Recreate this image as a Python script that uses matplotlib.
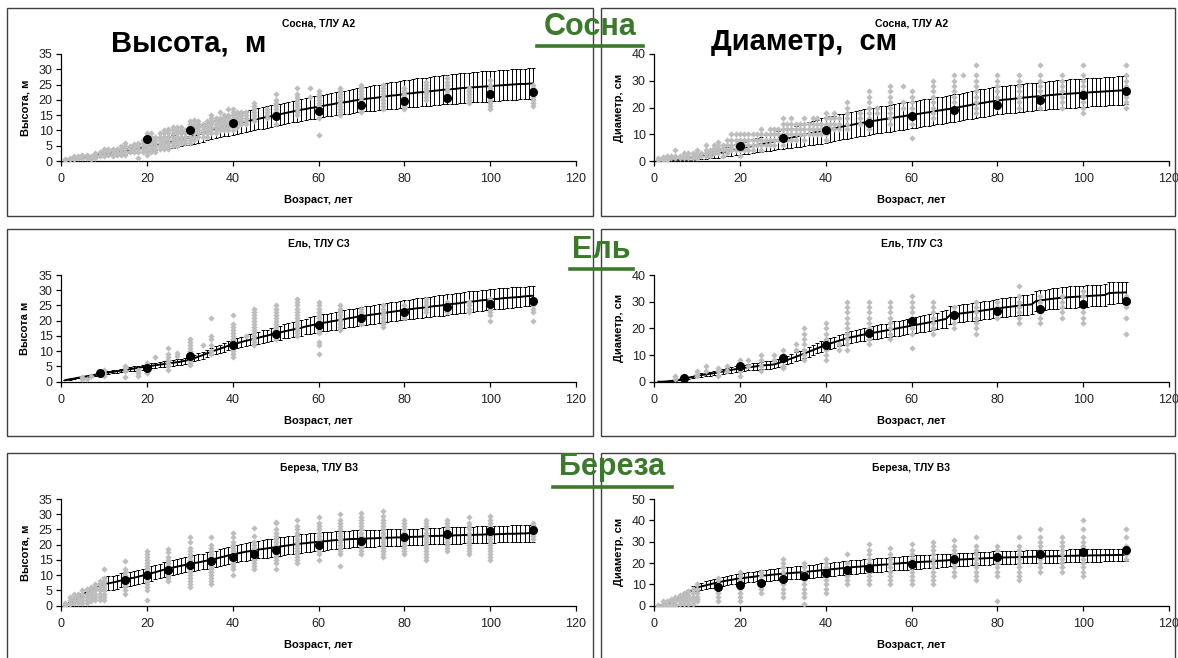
import numpy as np
import matplotlib.pyplot as plt
from matplotlib.patches import Rectangle
from matplotlib.lines import Line2D

plt.rcParams['font.family'] = ['Liberation Sans', 'DejaVu Sans']

# возраст, лет (модельная кривая считается для каждого года)
ages = list(range(1, 111))

# ---------------- Сосна, ТЛУ А2: высота ----------------
pine_h_curve = [
    0.5, 0.7, 0.9, 1.0, 1.2, 1.4, 1.6, 1.8, 2.0, 2.2,
    2.4, 2.6, 2.8, 3.1, 3.3, 3.6, 3.9, 4.1, 4.4, 4.7,
    5.0, 5.3, 5.6, 5.9, 6.2, 6.5, 6.8, 7.1, 7.5, 7.8,
    8.2, 8.7, 9.1, 9.6, 10.0, 10.4, 10.8, 11.2, 11.5, 11.9,
    12.2, 12.5, 12.9, 13.2, 13.5, 13.8, 14.1, 14.4, 14.7, 15.0,
    15.3, 15.6, 15.9, 16.2, 16.5, 16.8, 17.0, 17.3, 17.5, 17.8,
    18.0, 18.3, 18.5, 18.8, 19.0, 19.2, 19.4, 19.7, 19.9, 20.1,
    20.3, 20.5, 20.6, 20.8, 21.0, 21.2, 21.4, 21.5, 21.7, 21.9,
    22.1, 22.2, 22.4, 22.5, 22.7, 22.8, 23.0, 23.1, 23.3, 23.4,
    23.5, 23.6, 23.8, 23.9, 24.0, 24.1, 24.2, 24.3, 24.4, 24.5,
    24.6, 24.7, 24.8, 24.9, 25.0, 25.1, 25.2, 25.2, 25.3, 25.4]
pine_h_err = [
    0.1, 0.1, 0.2, 0.2, 0.3, 0.3, 0.4, 0.4, 0.5, 0.5,
    0.6, 0.7, 0.8, 0.9, 1.0, 1.1, 1.2, 1.3, 1.4, 1.5,
    1.6, 1.7, 1.8, 1.9, 2.0, 2.1, 2.2, 2.3, 2.4, 2.5,
    2.6, 2.7, 2.8, 2.8, 2.9, 3.0, 3.1, 3.1, 3.2, 3.3,
    3.3, 3.3, 3.4, 3.4, 3.4, 3.4, 3.5, 3.5, 3.5, 3.5,
    3.5, 3.5, 3.5, 3.5, 3.6, 3.6, 3.6, 3.6, 3.6, 3.6,
    3.6, 3.7, 3.7, 3.8, 3.8, 3.8, 3.9, 3.9, 4.0, 4.0,
    4.0, 4.1, 4.1, 4.2, 4.2, 4.3, 4.3, 4.4, 4.4, 4.5,
    4.5, 4.5, 4.6, 4.6, 4.6, 4.7, 4.7, 4.7, 4.8, 4.8,
    4.8, 4.8, 4.9, 4.9, 4.9, 4.9, 5.0, 5.0, 5.0, 5.0,
    5.0, 5.0, 5.0, 5.0, 5.0, 5.0, 5.0, 5.0, 5.0, 5.0]
pine_h_mean_age = [20, 30, 40, 50, 60, 70, 80, 90, 100, 110]
pine_h_mean = [7.1, 10.1, 12.5, 14.7, 16.4, 18.3, 19.5, 20.7, 21.8, 22.7]
pine_h_obs_age = [1, 2, 3, 4, 5, 6, 7, 8, 9, 10, 11, 12, 13, 14, 15, 16, 17, 18,
                  19, 20, 21, 22, 23, 24, 25, 26, 27, 28, 29, 30, 31, 32, 33, 34,
                  35, 36, 37, 38, 39, 40, 41, 42, 43, 45, 48, 50, 55, 58, 60, 65,
                  70, 75, 80, 85, 90, 95, 100, 110]
pine_h_obs = [
    [0.3, 0.6], [0.5, 1], [0.5, 1, 1.5], [1, 1.5], [1, 1.5, 2], [1, 1.5, 2],
    [0.5, 1, 1.5], [1, 2, 2.5], [1.5, 2, 3], [1.5, 2, 3, 3.5, 4], [2, 3, 4],
    [1.5, 2.5, 3.5, 4], [2, 3, 4], [2, 3, 4, 5], [2, 3, 4, 5, 6], [3, 4, 5],
    [3, 4, 5, 5.5], [1, 3, 4, 5, 6], [3, 4, 5, 6, 7], [2, 3, 4, 5, 6, 7, 8, 9],
    [3, 4, 5, 6, 7, 8, 9], [3, 4, 5, 6, 7, 8], [4, 5, 6, 7, 8, 9],
    [4, 5, 6, 7, 8, 9, 10], [4, 5, 6, 7, 8, 9, 10, 10.5], [5, 6, 7, 8, 9, 10, 11],
    [5, 6, 7, 8, 9, 10, 11], [6, 7, 8, 9, 10, 11], [6, 7, 8, 9, 10],
    [6, 7, 8, 9, 10, 11, 12, 13], [7, 8, 9, 10, 11, 12, 13.5],
    [8, 9, 10, 11, 12, 13], [8, 9, 10, 11, 12], [8, 9, 10, 11, 12, 13],
    [9, 10, 11, 12, 13, 14, 15], [9, 10, 11, 12, 13, 14], [10, 11, 12, 13, 14, 16],
    [10, 11, 12, 13, 14, 15], [10, 11, 12, 13, 14, 15, 17],
    [10, 11, 12, 13, 14, 15, 16, 17], [11, 12, 13, 14, 15, 16], [12, 13, 14, 15, 16],
    [12, 13, 14, 15, 16], [13, 14, 15, 16, 17, 18, 19], [14, 15, 16, 17],
    [12, 14, 15, 16, 17, 18, 19, 20, 22], [15, 16, 17, 18, 19, 20, 21, 22, 24],
    [21, 24], [8.5, 14, 16, 17, 18, 19, 20, 21, 22, 23],
    [15, 16, 17, 18, 19, 20, 21, 22, 23, 24], [16, 17, 18, 19, 20, 21, 22, 23, 24, 25],
    [17, 18, 19, 20, 21, 22, 23, 24, 25], [17, 18, 19, 20, 21, 22, 23, 24],
    [20, 21, 22, 23, 24, 25, 26], [22, 23, 24, 25, 26, 27], [19, 20, 21, 22, 23, 24],
    [17, 18, 19, 20, 21, 22, 23, 24, 25, 26.5], [18, 19, 20, 21, 22, 23, 24, 25]]

# ---------------- Сосна, ТЛУ А2: диаметр ----------------
pine_d_curve = [
    0.0, 0.1, 0.2, 0.3, 0.4, 0.6, 0.8, 1.0, 1.2, 1.4,
    1.7, 2.0, 2.2, 2.5, 2.8, 3.2, 3.5, 3.9, 4.2, 4.6,
    4.9, 5.3, 5.6, 6.0, 6.3, 6.6, 7.0, 7.3, 7.7, 8.0,
    8.4, 8.7, 9.1, 9.4, 9.8, 10.2, 10.5, 10.9, 11.2, 11.6,
    11.9, 12.2, 12.6, 12.9, 13.2, 13.5, 13.8, 14.1, 14.4, 14.7,
    15.0, 15.2, 15.5, 15.7, 16.0, 16.2, 16.5, 16.7, 17.0, 17.2,
    17.5, 17.7, 18.0, 18.2, 18.5, 18.8, 19.0, 19.3, 19.5, 19.8,
    20.1, 20.4, 20.7, 21.0, 21.3, 21.6, 21.8, 22.1, 22.3, 22.6,
    22.8, 23.0, 23.1, 23.3, 23.5, 23.7, 23.8, 24.0, 24.1, 24.3,
    24.4, 24.6, 24.7, 24.9, 25.0, 25.1, 25.2, 25.3, 25.4, 25.5,
    25.6, 25.7, 25.8, 25.9, 26.0, 26.1, 26.2, 26.3, 26.4, 26.5]
pine_d_err = [
    0.1, 0.1, 0.2, 0.3, 0.4, 0.4, 0.5, 0.6, 0.7, 0.8,
    0.9, 1.1, 1.2, 1.4, 1.5, 1.6, 1.8, 1.9, 2.1, 2.2,
    2.3, 2.5, 2.6, 2.7, 2.8, 3.0, 3.1, 3.2, 3.4, 3.5,
    3.6, 3.8, 3.9, 4.0, 4.1, 4.3, 4.4, 4.5, 4.7, 4.8,
    4.8, 4.8, 4.8, 4.8, 4.8, 4.9, 4.9, 4.9, 4.9, 4.9,
    4.9, 4.9, 4.9, 4.9, 5.0, 5.0, 5.0, 5.0, 5.0, 5.0,
    5.0, 5.0, 5.0, 5.0, 5.1, 5.1, 5.1, 5.1, 5.1, 5.1,
    5.1, 5.1, 5.1, 5.2, 5.2, 5.2, 5.2, 5.2, 5.2, 5.2,
    5.2, 5.2, 5.2, 5.2, 5.2, 5.2, 5.2, 5.2, 5.2, 5.2,
    5.2, 5.2, 5.2, 5.3, 5.3, 5.3, 5.3, 5.3, 5.3, 5.3,
    5.3, 5.3, 5.3, 5.3, 5.3, 5.3, 5.3, 5.3, 5.3, 5.3]
pine_d_mean_age = [20, 30, 40, 50, 60, 70, 80, 90, 100, 110]
pine_d_mean = [5.6, 8.5, 11.6, 14.1, 16.8, 19.1, 20.8, 22.8, 24.7, 26.2]
pine_d_obs_age = [1, 2, 3, 4, 5, 6, 7, 8, 9, 10, 11, 12, 13, 14, 15, 16, 17, 18,
                  19, 20, 21, 22, 23, 24, 25, 26, 27, 28, 29, 30, 31, 32, 33, 34,
                  35, 36, 37, 38, 39, 40, 41, 42, 43, 45, 48, 50, 52, 55, 58, 60,
                  65, 70, 72, 75, 80, 85, 90, 95, 100, 110]
pine_d_obs = [
    [0.5, 1], [0.5, 1, 1.5], [0.5, 1, 2], [1, 2], [1, 2, 4], [1, 2], [1, 2, 3],
    [1, 2, 3], [1, 2, 3], [1, 2, 3, 4], [2, 3], [2, 3, 4, 6], [2, 3, 4],
    [3, 4, 5, 6], [3, 4, 5, 6, 7], [2, 4, 5, 6], [3, 4, 6, 8], [4, 5, 6, 8, 10],
    [4, 6, 8, 10], [2, 4, 6, 8, 10], [4, 6, 8, 10], [4, 6, 8, 10], [4, 6, 8, 10],
    [6, 8, 10], [4, 6, 8, 10, 12], [6, 8, 10], [6, 8, 10, 12], [6, 8, 10, 12],
    [8, 10, 12], [6, 8, 10, 12, 14, 16], [8, 10, 12, 14], [8, 10, 12, 14, 16],
    [8, 10, 12, 14], [10, 12, 14], [8, 10, 12, 14, 16], [10, 12, 14],
    [10, 12, 14, 16], [10, 12, 14, 16], [10, 12, 14], [8, 10, 12, 14, 16, 18],
    [12, 14, 16], [12, 14, 16, 18], [12, 14, 16], [12, 14, 16, 18, 20, 22],
    [14, 16, 18], [12, 14, 16, 18, 20, 22, 24, 26], [18, 20],
    [14, 16, 18, 20, 22, 24, 26, 28], [20, 22, 28], [8.5, 14, 16, 18, 20, 22, 24, 26],
    [16, 18, 20, 22, 24, 26, 28, 30], [20, 22, 24, 26, 28, 30, 32], [32],
    [18, 20, 22, 24, 26, 28, 30, 32, 36], [20, 22, 24, 26, 28, 30, 32],
    [20, 22, 24, 26, 28, 30, 32], [20, 22, 24, 26, 28, 30, 32, 36],
    [20, 22, 24, 26, 28, 30, 32], [18, 20, 22, 24, 26, 28, 30, 32, 36],
    [20, 22, 24, 26, 28, 30, 32, 36]]

# ---------------- Ель, ТЛУ С3: высота ----------------
spruce_h_curve = [
    0.5, 0.8, 1.0, 1.3, 1.5, 1.8, 2.0, 2.3, 2.5, 2.8,
    3.0, 3.2, 3.4, 3.7, 3.9, 4.1, 4.3, 4.6, 4.8, 5.0,
    5.2, 5.4, 5.6, 5.8, 6.0, 6.2, 6.4, 6.6, 6.9, 7.2,
    7.7, 8.2, 8.7, 9.3, 9.8, 10.3, 10.8, 11.3, 11.8, 12.2,
    12.6, 13.0, 13.4, 13.7, 14.1, 14.4, 14.8, 15.1, 15.5, 15.8,
    16.1, 16.5, 16.8, 17.1, 17.4, 17.7, 18.1, 18.4, 18.7, 19.0,
    19.3, 19.5, 19.8, 20.0, 20.3, 20.5, 20.8, 21.0, 21.3, 21.5,
    21.7, 21.9, 22.1, 22.3, 22.5, 22.7, 22.9, 23.1, 23.3, 23.5,
    23.7, 23.9, 24.1, 24.2, 24.4, 24.6, 24.8, 24.9, 25.1, 25.3,
    25.5, 25.6, 25.8, 26.0, 26.2, 26.3, 26.5, 26.7, 26.8, 27.0,
    27.1, 27.2, 27.4, 27.5, 27.6, 27.7, 27.8, 28.0, 28.1, 28.2]
spruce_h_err = [
    0.1, 0.1, 0.1, 0.2, 0.2, 0.2, 0.3, 0.3, 0.4, 0.4,
    0.4, 0.5, 0.5, 0.6, 0.6, 0.6, 0.7, 0.7, 0.8, 0.8,
    0.8, 0.8, 0.9, 0.9, 0.9, 0.9, 0.9, 1.0, 1.0, 1.0,
    1.0, 1.1, 1.1, 1.2, 1.2, 1.3, 1.3, 1.4, 1.4, 1.5,
    1.6, 1.6, 1.7, 1.8, 1.8, 1.9, 2.0, 2.0, 2.1, 2.2,
    2.3, 2.3, 2.4, 2.4, 2.5, 2.6, 2.6, 2.7, 2.7, 2.8,
    2.8, 2.8, 2.8, 2.9, 2.9, 2.9, 2.9, 3.0, 3.0, 3.0,
    3.0, 3.0, 3.1, 3.1, 3.1, 3.1, 3.1, 3.2, 3.2, 3.2,
    3.2, 3.2, 3.3, 3.3, 3.3, 3.3, 3.3, 3.4, 3.4, 3.4,
    3.4, 3.4, 3.4, 3.4, 3.4, 3.4, 3.4, 3.4, 3.4, 3.4,
    3.4, 3.4, 3.4, 3.3, 3.3, 3.3, 3.3, 3.2, 3.2, 3.2]
spruce_h_mean_age = [9, 20, 30, 40, 50, 60, 70, 80, 90, 100, 110]
spruce_h_mean = [2.8, 4.6, 8.4, 12.2, 15.5, 18.5, 21.0, 23.0, 24.4, 25.4, 26.5]
spruce_h_obs_age = [5, 6, 7, 10, 15, 18, 20, 22, 25, 27, 30, 33, 35, 40, 43, 45,
                    50, 55, 60, 65, 70, 75, 80, 85, 90, 95, 100, 110]
spruce_h_obs = [
    [1, 1.5], [1], [2], [2, 3, 4], [1.5, 3.5, 4.5, 5], [2, 3, 4], [3, 4, 5, 6], [8],
    [4, 5, 6, 7, 8, 9, 11], [8.5, 9.5], [5.5, 6, 7, 8, 9, 10, 11, 12, 13, 14], [12],
    [9, 10, 12, 14, 15, 21], [8, 9, 10, 11, 12, 13, 14, 15, 16, 17, 18, 19, 22],
    [15], [12, 13, 14, 15, 16, 17, 18, 19, 20, 21, 22, 23, 24],
    [14, 15, 16, 17, 18, 19, 20, 21, 22, 23, 24, 25],
    [15, 16, 17, 18, 19, 20, 21, 22, 23, 24, 25, 26, 27],
    [9, 12, 13, 16, 17, 18, 19, 20, 21, 22, 23, 24, 25, 26],
    [17, 18, 19, 20, 21, 22, 23, 24, 25], [19, 20, 21, 22, 23, 24],
    [18, 19, 20, 21, 22, 23, 24, 25], [21, 22, 23, 24, 25], [23, 24, 25, 26, 27],
    [23, 24, 25, 26], [23, 24, 25, 26], [20, 22, 23, 24, 25, 26, 27],
    [20, 23, 24, 25, 26]]

# ---------------- Ель, ТЛУ С3: диаметр ----------------
spruce_d_curve = [
    0.0, 0.0, 0.1, 0.3, 0.5, 0.8, 1.1, 1.5, 1.8, 2.2,
    2.5, 2.7, 3.0, 3.2, 3.5, 3.8, 4.1, 4.4, 4.7, 5.0,
    5.2, 5.4, 5.6, 5.8, 6.0, 6.2, 6.3, 6.5, 7.0, 7.5,
    8.1, 8.7, 9.3, 9.9, 10.5, 11.2, 11.8, 12.5, 13.1, 13.8,
    14.3, 14.8, 15.3, 15.8, 16.3, 16.7, 17.0, 17.4, 17.7, 18.0,
    18.3, 18.6, 18.9, 19.2, 19.5, 19.8, 20.1, 20.4, 20.7, 21.0,
    21.3, 21.6, 21.9, 22.2, 22.5, 22.8, 23.2, 23.5, 25.0, 25.3,
    25.5, 25.7, 25.9, 26.1, 26.3, 26.5, 26.8, 27.0, 27.3, 27.5,
    27.7, 27.9, 28.1, 28.3, 28.5, 28.7, 28.8, 29.0, 30.2, 30.5,
    30.7, 30.9, 31.1, 31.3, 31.5, 31.6, 31.7, 31.8, 31.9, 32.0,
    32.1, 32.2, 32.3, 32.4, 32.5, 33.2, 33.3, 33.4, 33.4, 33.5]
spruce_d_err = [
    0.0, 0.1, 0.1, 0.2, 0.2, 0.3, 0.4, 0.4, 0.5, 0.6,
    0.7, 0.7, 0.8, 0.8, 0.9, 0.9, 1.0, 1.1, 1.1, 1.2,
    1.2, 1.2, 1.3, 1.3, 1.3, 1.4, 1.4, 1.4, 1.5, 1.5,
    1.6, 1.6, 1.7, 1.7, 1.8, 1.8, 1.9, 1.9, 2.0, 2.0,
    2.0, 2.1, 2.1, 2.1, 2.2, 2.2, 2.2, 2.3, 2.3, 2.3,
    2.4, 2.5, 2.6, 2.6, 2.7, 2.8, 2.8, 2.9, 2.9, 3.0,
    3.0, 3.0, 3.1, 3.1, 3.1, 3.1, 3.2, 3.2, 3.2, 3.2,
    3.3, 3.3, 3.3, 3.3, 3.4, 3.4, 3.4, 3.4, 3.5, 3.5,
    3.5, 3.5, 3.6, 3.6, 3.6, 3.7, 3.7, 3.7, 3.8, 3.8,
    3.8, 3.8, 3.9, 3.9, 3.9, 3.9, 4.0, 4.0, 4.0, 4.0,
    4.0, 4.0, 4.0, 4.0, 4.0, 4.0, 4.0, 4.0, 4.0, 4.0]
spruce_d_mean_age = [7, 20, 30, 40, 50, 60, 70, 80, 90, 100, 110]
spruce_d_mean = [1.3, 6.0, 9.0, 13.8, 18.4, 22.9, 25.1, 26.4, 27.3, 29.1, 30.4]
spruce_d_obs_age = [5, 7, 10, 12, 15, 17, 20, 22, 25, 28, 30, 33, 35, 40, 43, 45,
                    50, 55, 60, 65, 70, 75, 80, 85, 90, 95, 100, 110]
spruce_d_obs = [
    [1, 2], [1, 2], [2, 3, 4], [4, 6], [2, 4, 5], [4, 6], [2, 4, 6, 8], [6, 8],
    [4, 6, 8, 10], [8, 10], [5, 6, 8, 10, 12], [12, 14],
    [8, 10, 12, 14, 16, 18, 20], [8, 10, 12, 14, 16, 18, 20, 22], [12, 14],
    [12, 14, 16, 18, 20, 22, 24, 26, 28, 30], [14, 16, 18, 20, 22, 24, 26, 28, 30],
    [16, 18, 20, 22, 24, 26, 28, 30], [12.5, 18, 20, 22, 24, 26, 28, 30, 32],
    [18, 20, 22, 24, 26, 28, 30], [20, 22, 24, 26, 28], [18, 20, 22, 24, 26, 28, 30],
    [24, 26, 28, 30], [22, 24, 26, 28, 30, 32, 36], [22, 24, 26, 28, 30, 32],
    [24, 26, 28, 30, 32], [22, 24, 26, 28, 30, 32, 34], [18, 24, 28, 30, 32]]

# ---------------- Береза, ТЛУ В3: высота ----------------
birch_h_curve = [
    0.0, 1.0, 1.9, 2.8, 3.6, 4.4, 5.1, 5.8, 6.4, 7.0,
    7.3, 7.6, 7.9, 8.3, 8.6, 8.9, 9.2, 9.5, 9.9, 10.2,
    10.6, 11.0, 11.4, 11.8, 12.2, 12.5, 12.8, 13.1, 13.4, 13.7,
    14.0, 14.2, 14.5, 14.8, 15.1, 15.4, 15.8, 16.1, 16.5, 16.8,
    17.1, 17.4, 17.7, 17.9, 18.2, 18.4, 18.6, 18.8, 19.0, 19.2,
    19.4, 19.6, 19.8, 20.0, 20.2, 20.4, 20.5, 20.7, 20.8, 21.0,
    21.1, 21.2, 21.4, 21.5, 21.6, 21.7, 21.8, 21.9, 21.9, 22.0,
    22.0, 22.1, 22.1, 22.2, 22.2, 22.3, 22.3, 22.4, 22.4, 22.5,
    22.5, 22.6, 22.6, 22.7, 22.8, 22.8, 22.9, 22.9, 23.0, 23.0,
    23.0, 23.1, 23.1, 23.2, 23.2, 23.2, 23.3, 23.3, 23.4, 23.4,
    23.4, 23.5, 23.5, 23.6, 23.6, 23.6, 23.7, 23.7, 23.8, 23.8]
birch_h_err = [
    0.1, 0.2, 0.3, 0.4, 0.5, 0.6, 0.7, 0.8, 0.9, 2.3,
    2.3, 2.3, 2.3, 2.3, 2.3, 2.3, 2.3, 2.3, 2.3, 2.3,
    2.4, 2.4, 2.4, 2.4, 2.4, 2.5, 2.5, 2.5, 2.5, 2.5,
    2.6, 2.6, 2.6, 2.7, 2.7, 2.7, 2.7, 2.8, 2.8, 2.8,
    2.8, 2.9, 2.9, 2.9, 2.9, 2.9, 3.0, 3.0, 3.0, 3.0,
    3.0, 3.0, 3.0, 3.0, 3.0, 3.0, 3.0, 3.0, 3.0, 3.0,
    3.0, 3.0, 2.9, 2.9, 2.9, 2.9, 2.8, 2.8, 2.8, 2.8,
    2.8, 2.8, 2.8, 2.7, 2.7, 2.7, 2.7, 2.7, 2.7, 2.7,
    2.7, 2.7, 2.7, 2.7, 2.7, 2.7, 2.7, 2.7, 2.7, 2.7,
    2.7, 2.7, 2.7, 2.7, 2.7, 2.7, 2.7, 2.7, 2.7, 2.7,
    2.7, 2.7, 2.7, 2.7, 2.8, 2.8, 2.8, 2.8, 2.8, 2.8]
birch_h_mean_age = [15, 20, 25, 30, 35, 40, 45, 50, 60, 70, 80, 90, 100, 110]
birch_h_mean = [8.4, 10.1, 11.7, 13.4, 14.7, 16.1, 17.1, 18.2, 19.9, 21.3, 22.4,
                23.6, 24.4, 24.9]
birch_h_obs_age = [1, 2, 3, 4, 5, 6, 7, 8, 9, 10, 15, 20, 25, 30, 35, 40, 45, 50,
                   55, 60, 65, 70, 75, 80, 85, 90, 95, 100, 110]
birch_h_obs = [
    [0, 0.5, 1], [0.5, 1, 2, 3], [1, 2, 3, 4], [1, 2, 3, 4], [1, 2, 3, 4, 5],
    [1, 2, 3, 4, 5, 5.5], [1.5, 2.5, 3.5, 4.5, 5.5, 6], [2, 3, 4, 5, 6, 7],
    [2, 3, 4, 5, 6, 7, 8], [2, 3, 4, 5, 6, 7, 8, 9, 12],
    [4, 5, 6, 7, 8, 9, 10, 11, 12, 14.5],
    [2, 5, 6, 7, 8, 9, 10, 11, 12, 13, 14, 15, 16, 17, 18],
    [8, 9, 10, 11, 12, 13, 14, 15, 16, 17.5, 18.5],
    [6, 7, 8, 9, 10, 11, 12, 13, 14, 15, 16, 17, 18, 19, 21, 22.5],
    [7, 8, 9, 10, 11, 12, 13, 14, 15, 16, 17, 18, 19, 20, 22.5],
    [10, 12, 13, 14, 15, 16, 17, 18, 19, 20, 21, 22.5, 24],
    [12, 13, 14, 15, 16, 17, 18, 19, 20, 21, 23, 25.5],
    [12, 14, 15, 16, 17, 18, 19, 20, 21, 22, 23, 24, 25, 27, 27.5],
    [14, 15, 16, 17, 18, 19, 20, 21, 22, 23, 24, 25, 26, 28],
    [15, 17, 18, 19, 20, 21, 22, 23, 24, 25, 26, 27, 29],
    [13, 17, 18, 19, 20, 21, 22, 23, 24, 25, 26, 27, 28, 30],
    [17, 18, 19, 20, 21, 22, 23, 24, 25, 26, 27, 28, 29, 30.5],
    [16, 17, 18, 19, 20, 21, 22, 23, 24, 25, 26, 27, 28, 29.5, 31],
    [17, 18, 19, 20, 21, 22, 23, 24, 25, 26, 27, 28],
    [15, 16, 17, 18, 19, 20, 21, 22, 23, 24, 25, 26, 27, 28],
    [18, 19, 20, 21, 22, 23, 24, 25, 26, 27, 28],
    [17, 18, 19, 20, 21, 22, 23, 24, 25, 26, 27, 29],
    [15, 16, 17, 18, 19, 20, 21, 22, 23, 24, 25, 26, 27, 28, 29.5],
    [22, 23, 24, 25, 26, 27]]

# ---------------- Береза, ТЛУ В3: диаметр ----------------
birch_d_curve = [
    0.0, 0.3, 0.8, 1.5, 2.5, 3.8, 5.0, 6.2, 7.4, 8.5,
    9.0, 9.5, 10.0, 10.5, 11.0, 11.4, 11.8, 12.1, 12.5, 12.8,
    13.0, 13.3, 13.5, 13.8, 14.0, 14.2, 14.4, 14.6, 14.8, 15.0,
    15.2, 15.3, 15.5, 15.6, 15.8, 16.0, 16.2, 16.4, 16.6, 16.8,
    17.0, 17.2, 17.4, 17.6, 17.8, 18.0, 18.2, 18.3, 18.5, 18.7,
    18.9, 19.0, 19.2, 19.3, 19.5, 19.7, 19.8, 20.0, 20.1, 20.3,
    20.4, 20.5, 20.6, 20.7, 20.8, 21.0, 21.1, 21.2, 21.4, 21.5,
    21.6, 21.7, 21.8, 21.9, 22.0, 22.1, 22.2, 22.3, 22.4, 22.5,
    22.6, 22.6, 22.7, 22.7, 22.8, 22.8, 22.9, 22.9, 23.0, 23.0,
    23.1, 23.1, 23.2, 23.2, 23.3, 23.3, 23.4, 23.4, 23.5, 23.5,
    23.5, 23.6, 23.6, 23.6, 23.7, 23.7, 23.7, 23.8, 23.8, 23.8]
birch_d_err = [
    0.0, 0.1, 0.2, 0.3, 0.5, 0.7, 1.0, 1.3, 1.6, 1.8,
    1.8, 1.9, 1.9, 2.0, 2.0, 2.0, 2.1, 2.1, 2.2, 2.2,
    2.3, 2.3, 2.4, 2.4, 2.5, 2.5, 2.6, 2.7, 2.7, 2.8,
    2.8, 2.9, 2.9, 3.0, 3.0, 3.0, 3.1, 3.1, 3.2, 3.2,
    3.2, 3.2, 3.2, 3.2, 3.2, 3.2, 3.2, 3.2, 3.2, 3.2,
    3.2, 3.2, 3.2, 3.2, 3.2, 3.2, 3.2, 3.2, 3.2, 3.2,
    3.2, 3.2, 3.1, 3.1, 3.1, 3.1, 3.0, 3.0, 3.0, 3.0,
    3.0, 3.0, 3.0, 3.0, 3.0, 3.0, 3.0, 3.0, 3.0, 3.0,
    3.0, 3.0, 3.0, 3.0, 3.0, 3.0, 3.0, 3.0, 3.0, 3.0,
    3.0, 3.0, 3.0, 3.0, 3.0, 3.0, 3.0, 3.0, 3.0, 3.0,
    3.0, 3.0, 2.9, 2.9, 2.9, 2.9, 2.8, 2.8, 2.8, 2.8]
birch_d_mean_age = [15, 20, 25, 30, 35, 40, 45, 50, 60, 70, 80, 90, 100, 110]
birch_d_mean = [8.6, 9.7, 10.8, 12.4, 13.9, 15.2, 16.6, 17.9, 19.7, 21.8, 23.0,
                24.0, 25.1, 26.2]
birch_d_obs_age = [1, 2, 3, 4, 5, 6, 7, 8, 9, 10, 15, 20, 25, 30, 35, 40, 45, 50,
                   55, 60, 65, 70, 75, 80, 85, 90, 95, 100, 110]
birch_d_obs = [
    [0, 0.5], [0, 1, 2], [0, 1, 2], [0, 1, 2, 3], [0, 1, 2, 3, 4], [1, 2, 3, 4, 5],
    [1, 2, 3, 4, 6], [1, 2, 3, 4, 5, 7], [1, 2, 3, 4, 6, 8], [2, 3, 4, 6, 8, 10],
    [2, 4, 6, 8, 10, 12, 13], [2, 4, 6, 8, 10, 12, 14, 16], [6, 8, 10, 12, 14, 16],
    [4, 6, 8, 10, 12, 14, 16, 18, 20, 22], [1, 4, 6, 8, 10, 12, 14, 16, 18, 20],
    [6, 8, 10, 12, 14, 16, 18, 20, 22], [10, 12, 14, 16, 18, 20, 24],
    [10, 12, 14, 16, 18, 20, 22, 24, 26, 29], [10, 12, 14, 16, 18, 20, 22, 24, 27],
    [10, 12, 14, 16, 18, 20, 22, 24, 26, 29],
    [10, 12, 14, 16, 18, 20, 22, 24, 26, 28, 30],
    [14, 16, 18, 20, 22, 24, 26, 28, 31], [12, 14, 16, 18, 20, 22, 24, 26, 28, 32],
    [2, 14, 16, 18, 20, 22, 24, 26, 28], [12, 14, 16, 18, 20, 22, 24, 26, 28, 32],
    [16, 18, 20, 22, 24, 26, 28, 30, 32, 36], [16, 18, 20, 22, 24, 26, 28, 30, 32],
    [14, 16, 18, 20, 22, 24, 26, 28, 30, 32, 36, 40], [22, 24, 26, 28, 32, 36]]

panels = [
    ("Сосна, ТЛУ А2", "Высота, м", 35, 5, pine_h_curve, pine_h_err,
     pine_h_obs_age, pine_h_obs, pine_h_mean_age, pine_h_mean),
    ("Сосна, ТЛУ А2", "Диаметр, см", 40, 10, pine_d_curve, pine_d_err,
     pine_d_obs_age, pine_d_obs, pine_d_mean_age, pine_d_mean),
    ("Ель, ТЛУ С3", "Высота м", 35, 5, spruce_h_curve, spruce_h_err,
     spruce_h_obs_age, spruce_h_obs, spruce_h_mean_age, spruce_h_mean),
    ("Ель, ТЛУ С3", "Диаметр, см", 40, 10, spruce_d_curve, spruce_d_err,
     spruce_d_obs_age, spruce_d_obs, spruce_d_mean_age, spruce_d_mean),
    ("Береза, ТЛУ В3", "Высота, м", 35, 5, birch_h_curve, birch_h_err,
     birch_h_obs_age, birch_h_obs, birch_h_mean_age, birch_h_mean),
    ("Береза, ТЛУ В3", "Диаметр, см", 50, 10, birch_d_curve, birch_d_err,
     birch_d_obs_age, birch_d_obs, birch_d_mean_age, birch_d_mean),
]

W, H = 1178, 658
fig = plt.figure(figsize=(W / 100, H / 100), dpi=100)

# положение областей построения и рамок, в пикселях
col_x = [(61, 576), (654, 1169)]
row_y = [(54, 161), (275, 381.7), (499, 605.7)]
box_x = [(7, 593), (601, 1175)]
box_y = [(8, 216.5), (229, 436), (453, 700)]
ylab_x = [25, 619]

TXT = '#222222'
for i, (title, ylab, ymax, ystep, curve, err, oage, oval, mage, mval) in enumerate(panels):
    r, c = divmod(i, 2)
    x0, x1 = col_x[c]
    y0, y1 = row_y[r]
    ax = fig.add_axes([x0 / W, 1 - y1 / H, (x1 - x0) / W, (y1 - y0) / H])

    ax.errorbar(ages, curve, yerr=err, fmt='-', color='black', lw=1.4,
                elinewidth=0.7, capsize=1.6, capthick=0.7, zorder=2)
    xs = [a for a, vals in zip(oage, oval) for v in vals]
    ys = [v for a, vals in zip(oage, oval) for v in vals]
    ax.plot(xs, ys, 'D', color='#bdbdbd', ms=3.2, mew=0, zorder=3)
    ax.plot(mage, mval, 'o', color='black', ms=5.5, zorder=4)

    ax.set_xlim(0, 120)
    ax.set_ylim(0, ymax)
    ax.set_xticks(range(0, 121, 20))
    ax.set_yticks(range(0, ymax + 1, ystep))
    for s in ['top', 'right']:
        ax.spines[s].set_visible(False)
    for s in ['left', 'bottom']:
        ax.spines[s].set_linewidth(0.9)
    ax.tick_params(direction='out', length=3.5, width=0.9, labelsize=9,
                   labelcolor=TXT, pad=2.5)
    ax.tick_params(axis='x', pad=5)
    ax.patch.set_alpha(0)

    xc = (x0 + x1) / 2
    fig.text(xc / W, 1 - (y0 - 31) / H, title, ha='center', va='center',
             fontsize=7.5, weight='bold', color='black')
    fig.text(xc / W, 1 - (y1 + 39) / H, "Возраст, лет", ha='center', va='center',
             fontsize=8, weight='bold', color='black')
    fig.text(ylab_x[c] / W, 1 - (y0 + y1) / 2 / H, ylab, ha='center', va='center',
             rotation=90, fontsize=8, weight='bold', color='black')

    bx0, bx1 = box_x[c]
    by0, by1 = box_y[r]
    fig.add_artist(Rectangle((bx0 / W, 1 - by1 / H), (bx1 - bx0) / W, (by1 - by0) / H,
                             transform=fig.transFigure, fill=False,
                             edgecolor='#404040', lw=1.0))

# крупные подписи
fig.text(189 / W, 1 - 44 / H, "Высота,  м", ha='center', va='center',
         fontsize=21, weight='bold', color='black')
fig.text(804 / W, 1 - 42 / H, "Диаметр,  см", ha='center', va='center',
         fontsize=21, weight='bold', color='black')

GREEN = '#3b7a2b'
species = [("Сосна", 590, 27, 537, 643, 46),
           ("Ель", 601, 250, 570, 633, 269),
           ("Береза", 612, 467, 553, 672, 487)]
for name, cx, cy, u0, u1, uy in species:
    fig.text(cx / W, 1 - cy / H, name, ha='center', va='center',
             fontsize=22, weight='bold', color=GREEN)
    fig.add_artist(Line2D([u0 / W, u1 / W], [1 - uy / H, 1 - uy / H],
                          transform=fig.transFigure, color=GREEN, lw=2.6))

fig.savefig("out.png", dpi=100)
